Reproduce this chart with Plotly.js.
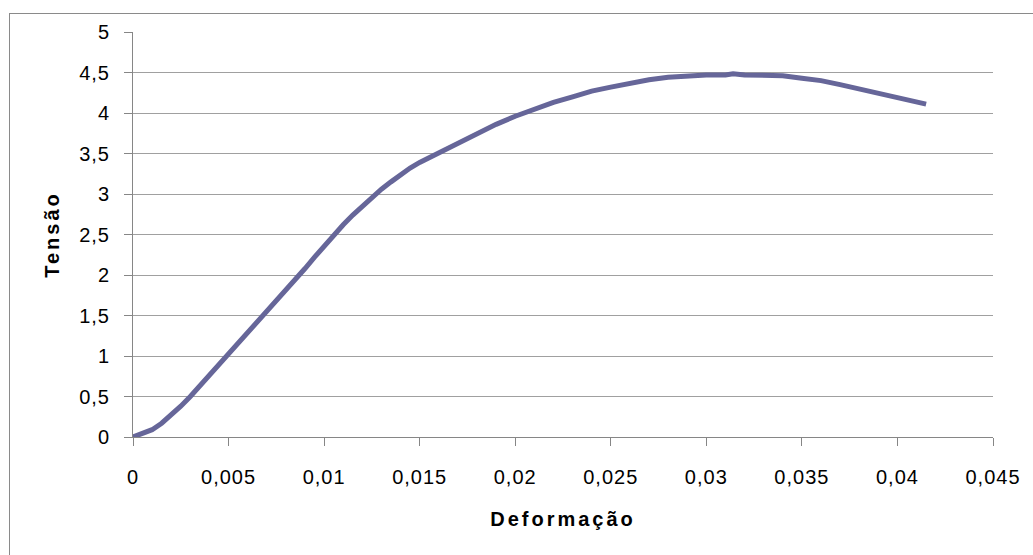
<!DOCTYPE html>
<html>
<head>
<meta charset="utf-8">
<script src="https://cdn.plot.ly/plotly-3.0.1.min.js"></script>
<style>
  html, body { margin: 0; padding: 0; background: #ffffff; overflow: hidden; }
  #wrap { position: relative; width: 1033px; height: 555px; overflow: hidden; }
  #chart { position: absolute; left: 0; top: 0; width: 1033px; height: 555px; }
  #frame { position: absolute; left: 9px; top: 13px; width: 1100px; height: 700px;
           border: 1px solid #8a8a8a; pointer-events: none; }
  .xtitle, .ytitle { letter-spacing: 3px; }
  .xtick text, .ytick text { letter-spacing: 1px; }
</style>
</head>
<body>
<div id="wrap">
  <div id="frame"></div>
  <div id="chart"></div>
</div>
<script>
// Deformação (strain) values
const deformacao = [
  0, 0.0005, 0.001, 0.0015, 0.002, 0.0025, 0.003, 0.0035, 0.004, 0.0045,
  0.005, 0.0055, 0.006, 0.0065, 0.007, 0.0075, 0.008, 0.0085, 0.009, 0.0095,
  0.01, 0.0105, 0.011, 0.0115, 0.012, 0.0125, 0.013, 0.0135, 0.014, 0.0145,
  0.015, 0.0155, 0.016, 0.017, 0.018, 0.019, 0.02, 0.021, 0.022, 0.023,
  0.024, 0.025, 0.026, 0.027, 0.028, 0.029, 0.03, 0.031, 0.0314, 0.032,
  0.033, 0.034, 0.035, 0.036, 0.037, 0.038, 0.039, 0.04, 0.041, 0.0415
];
// Tensão (stress) values
const tensao = [
  0, 0.04, 0.09, 0.17, 0.27, 0.38, 0.5, 0.63, 0.76, 0.89,
  1.03, 1.16, 1.29, 1.42, 1.55, 1.68, 1.81, 1.94, 2.08, 2.22,
  2.36, 2.5, 2.62, 2.74, 2.85, 2.96, 3.06, 3.15, 3.24, 3.32,
  3.39, 3.45, 3.5, 3.63, 3.75, 3.86, 3.96, 4.05, 4.13, 4.2,
  4.27, 4.32, 4.37, 4.41, 4.44, 4.46, 4.47, 4.47, 4.485, 4.47,
  4.47, 4.46, 4.43, 4.4, 4.35, 4.3, 4.25, 4.19, 4.14, 4.11
];
const xTicks = [0, 0.005, 0.01, 0.015, 0.02, 0.025, 0.03, 0.035, 0.04, 0.045];
const yTicks = [0, 0.5, 1, 1.5, 2, 2.5, 3, 3.5, 4, 4.5, 5];
const xTitle = 'Deformação';
const yTitle = 'Tensão';

const fontFam = '"Liberation Sans", Arial, sans-serif';

const trace = {
  x: deformacao,
  y: tensao,
  type: 'scatter',
  mode: 'lines',
  line: { color: '#666699', width: 5 },
  hoverinfo: 'none'
};

const layout = {
  width: 1033,
  height: 555,
  margin: { l: 133, r: 40, t: 32, b: 118 },
  paper_bgcolor: 'rgba(0,0,0,0)',
  plot_bgcolor: 'rgba(0,0,0,0)',
  separators: ', ',
  showlegend: false,
  font: { family: fontFam, size: 20, color: '#000000' },
  xaxis: {
    range: [0, 0.045],
    tickmode: 'array',
    tickvals: xTicks,
    ticktext: xTicks.map(v => String(v).replace('.', ',')),
    showgrid: false,
    zeroline: false,
    showline: true,
    linecolor: '#868686',
    linewidth: 1,
    ticks: 'outside',
    ticklen: 8,
    tickcolor: '#868686',
    ticklabelstandoff: 14,
    tickfont: { family: fontFam, size: 20, color: '#000000' },
    title: { text: xTitle, standoff: 24, font: { family: fontFam, size: 20, color: '#000000', weight: 'bold' } }
  },
  yaxis: {
    range: [0, 5],
    tickmode: 'array',
    tickvals: yTicks,
    ticktext: yTicks.map(v => String(v).replace('.', ',')),
    showgrid: true,
    gridcolor: '#a0a0a0',
    gridwidth: 1,
    zeroline: false,
    showline: true,
    linecolor: '#868686',
    linewidth: 1,
    ticks: 'outside',
    ticklen: 8,
    tickcolor: '#868686',
    ticklabelstandoff: 10,
    tickfont: { family: fontFam, size: 20, color: '#000000' },
    title: { text: yTitle, standoff: 14, font: { family: fontFam, size: 20, color: '#000000', weight: 'bold' } }
  }
};

Plotly.newPlot('chart', [trace], layout, { staticPlot: true, displayModeBar: false });
</script>
</body>
</html>
